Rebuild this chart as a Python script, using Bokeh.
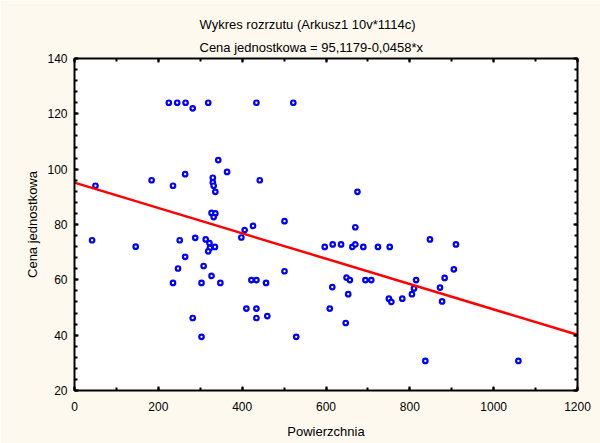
from bokeh.plotting import figure
from bokeh.models import (LinearAxis, SingleIntervalTicker, Title, Range1d, ColumnDataSource,
                          CustomJSTickFormatter)
from bokeh.embed import file_html
from bokeh.resources import INLINE

# Scatter data (Powierzchnia vs Cena jednostkowa)
powierzchnia = [42, 50, 146, 184, 225, 245, 265, 282, 319, 434, 522, 343, 364, 264, 235,
                330, 330, 332, 336, 327, 336, 332, 251, 288, 313, 322, 335, 323, 319, 264,
                247, 308, 327, 235, 303, 348, 282, 303, 442, 398, 406, 426, 501, 422, 434,
                457, 501, 410, 434, 434, 460, 529,
                675, 670, 597, 616, 636, 663, 670, 689, 724, 752, 615, 649, 657, 694, 708,
                653, 609, 647, 750, 756, 848, 910, 905, 883, 815, 872, 810, 805, 782, 877,
                837, 1059]
cena = [74.3, 94.0, 72.0, 96.0, 124.0, 124.0, 124.0, 122.0, 124.0, 124.0, 124.0, 103.3, 99.0, 98.2, 94.0,
        96.9, 95.2, 94.0, 91.8, 84.2, 84.0, 82.7, 74.3, 75.2, 74.6, 73.3, 71.9, 71.5, 70.3, 68.3,
        64.1, 65.0, 61.4, 58.9, 58.9, 58.9, 46.2, 39.4, 96.0, 75.3, 78.0, 79.5, 81.2, 59.9, 59.9,
        58.9, 63.1, 49.6, 49.6, 46.2, 46.9, 39.4,
        91.8, 79.0, 71.9, 72.8, 72.8, 71.9, 72.8, 71.9, 71.9, 71.9, 57.4, 60.8, 59.9, 59.9, 59.9,
        54.8, 49.6, 44.4, 53.2, 52.0, 74.6, 72.8, 63.8, 60.7, 59.9, 57.2, 56.9, 54.8, 53.2, 52.2,
        30.7, 30.7]

# Fitted line from the subtitle
intercept = 95.1179
slope = -0.0458
line_x = [0, 1200]
line_y = [intercept + slope * v for v in line_x]

title_main = "Wykres rozrzutu (Arkusz1 10v*1114c)"
title_sub = "Cena jednostkowa = 95,1179-0,0458*x"
x_label = "Powierzchnia"
y_label = "Cena jednostkowa"

FONT = "Liberation Sans"
CREAM = "#FDF9EE"

p = figure(width=600, height=443, output_backend="svg", toolbar_location=None,
           x_range=Range1d(0, 1200), y_range=Range1d(20, 140),
           min_border_left=74, min_border_right=23, min_border_top=58, min_border_bottom=53,
           background_fill_color="white", border_fill_color=CREAM,
           x_axis_type=None, y_axis_type=None)
p.outline_line_color = None

blank = CustomJSTickFormatter(code="return ''")


def style_axis(ax, show_labels):
    ax.axis_line_color = "black"
    ax.axis_line_width = 2
    ax.major_tick_in = 4
    ax.major_tick_out = 0
    ax.minor_tick_in = 3
    ax.minor_tick_out = 0
    ax.major_tick_line_width = 2
    ax.minor_tick_line_width = 2
    ax.major_tick_line_color = "black"
    ax.minor_tick_line_color = "black"
    ax.major_label_text_font = FONT
    ax.major_label_text_color = "black"
    ax.major_label_text_font_size = "12px"
    ax.axis_label_text_font = FONT
    ax.axis_label_text_font_style = "normal"
    ax.axis_label_text_font_size = "13px"
    ax.axis_label_text_color = "black"
    if not show_labels:
        ax.formatter = blank
        ax.major_label_standoff = 0


xt = SingleIntervalTicker(interval=200, num_minor_ticks=2)
yt = SingleIntervalTicker(interval=20, num_minor_ticks=5)

xb = LinearAxis(ticker=xt, axis_label=x_label)
style_axis(xb, True)
xb.major_label_standoff = 11
xb.axis_label_standoff = 10
p.add_layout(xb, "below")

yl = LinearAxis(ticker=yt, axis_label=y_label)
style_axis(yl, True)
yl.major_label_standoff = 7
yl.axis_label_standoff = 4
p.add_layout(yl, "left")

xa = LinearAxis(ticker=xt)
style_axis(xa, False)
p.add_layout(xa, "above")

yr = LinearAxis(ticker=yt)
style_axis(yr, False)
p.add_layout(yr, "right")

p.xgrid.ticker = xt
p.ygrid.ticker = yt
for g in (p.xgrid, p.ygrid):
    g.grid_line_color = "#C4C4C4"
    g.grid_line_dash = "3 2"
    g.grid_line_width = 1

src = ColumnDataSource(dict(x=powierzchnia, y=cena))
p.scatter("x", "y", source=src, marker="circle", size=4.5, line_width=2.2,
          line_color="#0000FF", fill_color="white")

p.line(line_x, line_y, line_color="#FF0000", line_width=2.5)

t_sub = Title(text=title_sub, align="left", offset=125, text_font=FONT,
              text_font_size="13px", text_font_style="normal", text_color="black", standoff=8)
t_main = Title(text=title_main, align="left", offset=125, text_font=FONT,
               text_font_size="13px", text_font_style="normal", text_color="black", standoff=4)
p.add_layout(t_sub, "above")
p.add_layout(t_main, "above")

open("out.html", "w").write(file_html(p, INLINE))
